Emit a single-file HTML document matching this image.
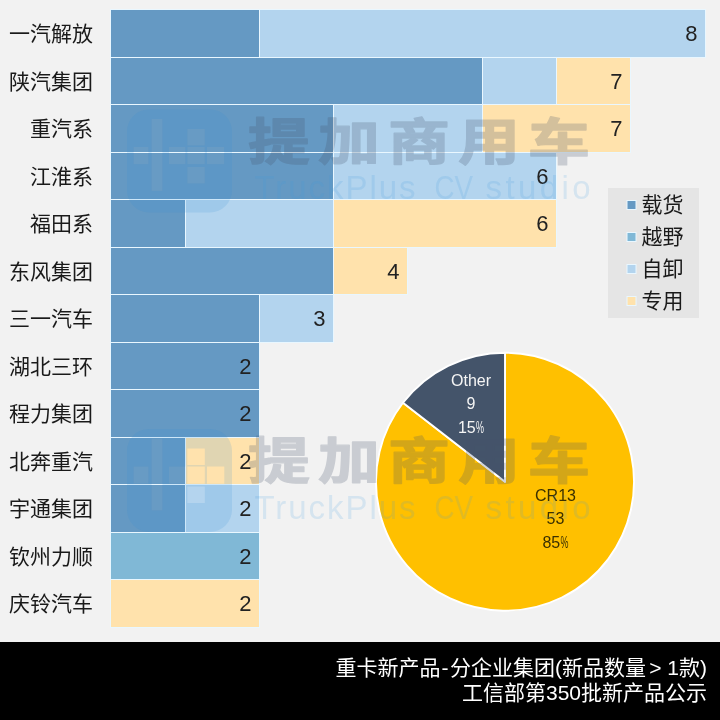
<!DOCTYPE html><html lang="zh"><head><meta charset="utf-8"><title>重卡新产品-分企业集团</title>
<style>html,body{margin:0;padding:0;background:#f2f2f2;}body{width:720px;height:720px;overflow:hidden;position:relative;font-family:"Liberation Sans","Noto Sans CJK SC",sans-serif;}svg{display:block;position:absolute;left:0;top:0}text{font-family:"Liberation Sans","Noto Sans CJK SC",sans-serif;}</style></head><body>
<svg width="720" height="720" viewBox="0 0 720 720">
<rect x="0" y="0" width="720" height="720" fill="#f2f2f2"/>
<rect x="110.50" y="9.50" width="149.00" height="48.00" fill="#6599c3" stroke="#e9f7ff" stroke-width="1"/>
<rect x="259.50" y="9.50" width="446.00" height="48.00" fill="#b3d4ee" stroke="#e9f7ff" stroke-width="1"/>
<text x="697.50" y="41.40" font-size="22" fill="#222" text-anchor="end">8</text>
<text x="93" y="41.00" font-size="21" fill="#1a1a1a" text-anchor="end">一汽解放</text>
<rect x="110.50" y="57.50" width="372.00" height="47.00" fill="#6599c3" stroke="#e9f7ff" stroke-width="1"/>
<rect x="482.50" y="57.50" width="74.00" height="47.00" fill="#b3d4ee" stroke="#e9f7ff" stroke-width="1"/>
<rect x="556.50" y="57.50" width="74.00" height="47.00" fill="#ffe2ac" stroke="#e9f7ff" stroke-width="1"/>
<text x="622.50" y="88.90" font-size="22" fill="#222" text-anchor="end">7</text>
<text x="93" y="88.50" font-size="21" fill="#1a1a1a" text-anchor="end">陕汽集团</text>
<rect x="110.50" y="104.50" width="223.00" height="48.00" fill="#6599c3" stroke="#e9f7ff" stroke-width="1"/>
<rect x="333.50" y="104.50" width="149.00" height="48.00" fill="#b3d4ee" stroke="#e9f7ff" stroke-width="1"/>
<rect x="482.50" y="104.50" width="148.00" height="48.00" fill="#ffe2ac" stroke="#e9f7ff" stroke-width="1"/>
<text x="622.50" y="136.40" font-size="22" fill="#222" text-anchor="end">7</text>
<text x="93" y="136.00" font-size="21" fill="#1a1a1a" text-anchor="end">重汽系</text>
<rect x="110.50" y="152.50" width="223.00" height="47.00" fill="#6599c3" stroke="#e9f7ff" stroke-width="1"/>
<rect x="333.50" y="152.50" width="223.00" height="47.00" fill="#b3d4ee" stroke="#e9f7ff" stroke-width="1"/>
<text x="548.50" y="183.90" font-size="22" fill="#222" text-anchor="end">6</text>
<text x="93" y="183.50" font-size="21" fill="#1a1a1a" text-anchor="end">江淮系</text>
<rect x="110.50" y="199.50" width="75.00" height="48.00" fill="#6599c3" stroke="#e9f7ff" stroke-width="1"/>
<rect x="185.50" y="199.50" width="148.00" height="48.00" fill="#b3d4ee" stroke="#e9f7ff" stroke-width="1"/>
<rect x="333.50" y="199.50" width="223.00" height="48.00" fill="#ffe2ac" stroke="#e9f7ff" stroke-width="1"/>
<text x="548.50" y="231.40" font-size="22" fill="#222" text-anchor="end">6</text>
<text x="93" y="231.00" font-size="21" fill="#1a1a1a" text-anchor="end">福田系</text>
<rect x="110.50" y="247.50" width="223.00" height="47.00" fill="#6599c3" stroke="#e9f7ff" stroke-width="1"/>
<rect x="333.50" y="247.50" width="74.00" height="47.00" fill="#ffe2ac" stroke="#e9f7ff" stroke-width="1"/>
<text x="399.50" y="278.90" font-size="22" fill="#222" text-anchor="end">4</text>
<text x="93" y="278.50" font-size="21" fill="#1a1a1a" text-anchor="end">东风集团</text>
<rect x="110.50" y="294.50" width="149.00" height="48.00" fill="#6599c3" stroke="#e9f7ff" stroke-width="1"/>
<rect x="259.50" y="294.50" width="74.00" height="48.00" fill="#b3d4ee" stroke="#e9f7ff" stroke-width="1"/>
<text x="325.50" y="326.40" font-size="22" fill="#222" text-anchor="end">3</text>
<text x="93" y="326.00" font-size="21" fill="#1a1a1a" text-anchor="end">三一汽车</text>
<rect x="110.50" y="342.50" width="149.00" height="47.00" fill="#6599c3" stroke="#e9f7ff" stroke-width="1"/>
<text x="251.50" y="373.90" font-size="22" fill="#222" text-anchor="end">2</text>
<text x="93" y="373.50" font-size="21" fill="#1a1a1a" text-anchor="end">湖北三环</text>
<rect x="110.50" y="389.50" width="149.00" height="48.00" fill="#6599c3" stroke="#e9f7ff" stroke-width="1"/>
<text x="251.50" y="421.40" font-size="22" fill="#222" text-anchor="end">2</text>
<text x="93" y="421.00" font-size="21" fill="#1a1a1a" text-anchor="end">程力集团</text>
<rect x="110.50" y="437.50" width="75.00" height="47.00" fill="#6599c3" stroke="#e9f7ff" stroke-width="1"/>
<rect x="185.50" y="437.50" width="74.00" height="47.00" fill="#ffe2ac" stroke="#e9f7ff" stroke-width="1"/>
<text x="251.50" y="468.90" font-size="22" fill="#222" text-anchor="end">2</text>
<text x="93" y="468.50" font-size="21" fill="#1a1a1a" text-anchor="end">北奔重汽</text>
<rect x="110.50" y="484.50" width="75.00" height="48.00" fill="#6599c3" stroke="#e9f7ff" stroke-width="1"/>
<rect x="185.50" y="484.50" width="74.00" height="48.00" fill="#b3d4ee" stroke="#e9f7ff" stroke-width="1"/>
<text x="251.50" y="516.40" font-size="22" fill="#222" text-anchor="end">2</text>
<text x="93" y="516.00" font-size="21" fill="#1a1a1a" text-anchor="end">宇通集团</text>
<rect x="110.50" y="532.50" width="149.00" height="47.00" fill="#80b8d6" stroke="#e9f7ff" stroke-width="1"/>
<text x="251.50" y="563.90" font-size="22" fill="#222" text-anchor="end">2</text>
<text x="93" y="563.50" font-size="21" fill="#1a1a1a" text-anchor="end">钦州力顺</text>
<rect x="110.50" y="579.50" width="149.00" height="48.00" fill="#ffe2ac" stroke="#e9f7ff" stroke-width="1"/>
<text x="251.50" y="611.40" font-size="22" fill="#222" text-anchor="end">2</text>
<text x="93" y="611.00" font-size="21" fill="#1a1a1a" text-anchor="end">庆铃汽车</text>
<rect x="608" y="188" width="91" height="130" fill="#e5e5e5"/>
<rect x="627" y="200.5" width="9" height="9" fill="#6599c3" stroke="#e9f7ff" stroke-width="1"/>
<text x="641.5" y="212.3" font-size="21" fill="#1a1a1a">载货</text>
<rect x="627" y="232.5" width="9" height="9" fill="#80b8d6" stroke="#e9f7ff" stroke-width="1"/>
<text x="641.5" y="244.3" font-size="21" fill="#1a1a1a">越野</text>
<rect x="627" y="264.5" width="9" height="9" fill="#b3d4ee" stroke="#e9f7ff" stroke-width="1"/>
<text x="641.5" y="276.3" font-size="21" fill="#1a1a1a">自卸</text>
<rect x="627" y="296.5" width="9" height="9" fill="#ffe2ac" stroke="#e9f7ff" stroke-width="1"/>
<text x="641.5" y="308.3" font-size="21" fill="#1a1a1a">专用</text>
<path d="M505.00 481.70 L505.00 352.70 A129.00 129.00 0 1 1 402.99 402.74 Z" fill="#ffc000" stroke="#fff" stroke-width="1.9" stroke-linejoin="round"/>
<path d="M505.00 481.70 L402.99 402.74 A129.00 129.00 0 0 1 505.00 352.70 Z" fill="#44546a" stroke="#fff" stroke-width="1.9" stroke-linejoin="round"/>
<text x="471.0" y="385.5" font-size="16" fill="#f5f5f5" text-anchor="middle">Other</text>
<text x="471.0" y="409.0" font-size="16" fill="#f5f5f5" text-anchor="middle">9</text>
<text x="457.9" y="432.5" font-size="16" fill="#f5f5f5">15</text>
<text transform="translate(476.0,432.5) scale(0.56,1)" font-size="16" fill="#f5f5f5">%</text>
<text x="555.5" y="500.5" font-size="16" fill="#3b3000" text-anchor="middle">CR13</text>
<text x="555.5" y="524.0" font-size="16" fill="#3b3000" text-anchor="middle">53</text>
<text x="542.4" y="547.5" font-size="16" fill="#3b3000">85</text>
<text transform="translate(560.5,547.5) scale(0.56,1)" font-size="16" fill="#3b3000">%</text>
<rect x="0" y="642" width="720" height="78" fill="#000"/>
<text x="707" y="674.5" font-size="21" fill="#fff" text-anchor="end">重卡新产品<tspan dx="1">-</tspan><tspan dx="1.5">分企业集团(新品数量</tspan><tspan dx="-2.5"> &gt; 1款)</tspan></text>
<text x="707" y="699.5" font-size="21" fill="#fff" text-anchor="end">工信部第350批新产品公示</text>
<g transform="translate(127,109.4)">
<path d="M22 0H83A22 22 0 0 1 105 22V81A22 22 0 0 1 83 103H22A22 22 0 0 1 0 81V22A22 22 0 0 1 22 0ZM60.3 19.5h17.5v16.7h-17.5ZM60.3 37.5h17.5v17.4h-17.5ZM60.3 57.5h17.5v16.7h-17.5ZM80.0 37.5h17.3v17.4h-17.3ZM24.5 9.5h11.0v72.0h-11.0ZM6.5 37.5h15.0v17.4h-15.0ZM42.0 37.5h16.5v17.4h-16.5Z" fill="#2f8fd8" fill-opacity="0.15" fill-rule="evenodd"/>
<rect x="60.3" y="19.5" width="17.5" height="16.7" fill="#fff" fill-opacity="0.02"/>
<rect x="60.3" y="37.5" width="17.5" height="17.4" fill="#fff" fill-opacity="0.02"/>
<rect x="60.3" y="57.5" width="17.5" height="16.7" fill="#fff" fill-opacity="0.02"/>
<rect x="80.0" y="37.5" width="17.3" height="17.4" fill="#fff" fill-opacity="0.02"/>
<rect x="24.5" y="9.5" width="11.0" height="72.0" fill="#fff" fill-opacity="0.02"/>
<rect x="6.5" y="37.5" width="15.0" height="17.4" fill="#fff" fill-opacity="0.02"/>
<rect x="42.0" y="37.5" width="16.5" height="17.4" fill="#fff" fill-opacity="0.02"/>
<g opacity="0.23"><text transform="translate(121,50.5) scale(1.24,1)" x="0" y="0" font-size="50" font-weight="700" letter-spacing="6.45" fill="#45526a" stroke="#45526a" stroke-width="1.3" stroke-linejoin="round">提加商用车</text></g>
<g fill="#3b96dc" fill-opacity="0.155" font-size="33">
<text x="127.5" y="89.8" textLength="161" lengthAdjust="spacing">TruckPlus</text>
<text x="307.5" y="89.8" textLength="38.5" lengthAdjust="spacingAndGlyphs">CV</text>
<text x="358.5" y="89.8" textLength="105" lengthAdjust="spacing">studio</text>
</g>
</g>
<g transform="translate(127,428.9)">
<path d="M22 0H83A22 22 0 0 1 105 22V81A22 22 0 0 1 83 103H22A22 22 0 0 1 0 81V22A22 22 0 0 1 22 0ZM60.3 19.5h17.5v16.7h-17.5ZM60.3 37.5h17.5v17.4h-17.5ZM60.3 57.5h17.5v16.7h-17.5ZM80.0 37.5h17.3v17.4h-17.3ZM24.5 9.5h11.0v72.0h-11.0ZM6.5 37.5h15.0v17.4h-15.0ZM42.0 37.5h16.5v17.4h-16.5Z" fill="#2f8fd8" fill-opacity="0.15" fill-rule="evenodd"/>
<rect x="60.3" y="19.5" width="17.5" height="16.7" fill="#fff" fill-opacity="0.02"/>
<rect x="60.3" y="37.5" width="17.5" height="17.4" fill="#fff" fill-opacity="0.02"/>
<rect x="60.3" y="57.5" width="17.5" height="16.7" fill="#fff" fill-opacity="0.02"/>
<rect x="80.0" y="37.5" width="17.3" height="17.4" fill="#fff" fill-opacity="0.02"/>
<rect x="24.5" y="9.5" width="11.0" height="72.0" fill="#fff" fill-opacity="0.02"/>
<rect x="6.5" y="37.5" width="15.0" height="17.4" fill="#fff" fill-opacity="0.02"/>
<rect x="42.0" y="37.5" width="16.5" height="17.4" fill="#fff" fill-opacity="0.02"/>
<g opacity="0.23"><text transform="translate(121,50.5) scale(1.24,1)" x="0" y="0" font-size="50" font-weight="700" letter-spacing="6.45" fill="#45526a" stroke="#45526a" stroke-width="1.3" stroke-linejoin="round">提加商用车</text></g>
<g fill="#3b96dc" fill-opacity="0.155" font-size="33">
<text x="127.5" y="89.8" textLength="161" lengthAdjust="spacing">TruckPlus</text>
<text x="307.5" y="89.8" textLength="38.5" lengthAdjust="spacingAndGlyphs">CV</text>
<text x="358.5" y="89.8" textLength="105" lengthAdjust="spacing">studio</text>
</g>
</g>
</svg></body></html>
